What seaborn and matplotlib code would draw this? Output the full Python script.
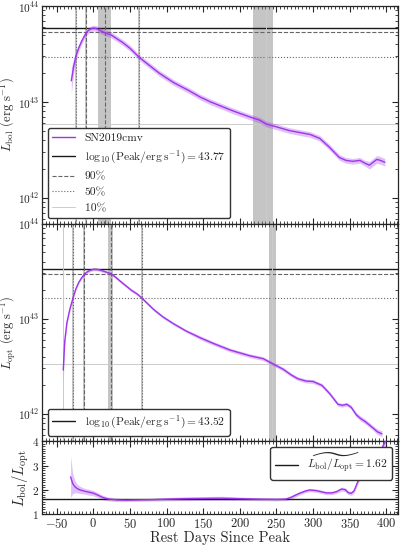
import numpy as np
import pandas as pd
import seaborn as sns
import matplotlib.pyplot as plt
from matplotlib.ticker import MultipleLocator, FixedLocator

# bolometric light curve (log10 L in erg/s) vs rest days since peak
bol_days = [-30, -27, -24, -20, -16, -12, -8, -4, 0, 4, 8, 12, 16, 24, 32, 40, 50, 62, 70, 80,
            90, 100, 110, 120, 130, 146, 160, 173, 186, 200, 213, 227, 236, 250, 268, 282, 296,
            309, 322, 336, 345, 354, 364, 371, 377, 382, 387, 392, 398]
bol_log = [43.22, 43.36, 43.47, 43.56, 43.63, 43.69, 43.735, 43.76, 43.77, 43.765, 43.75, 43.735,
           43.72, 43.70, 43.66, 43.62, 43.56, 43.47, 43.42, 43.36, 43.30, 43.25, 43.20, 43.16,
           43.12, 43.05, 43.00, 42.96, 42.92, 42.88, 42.845, 42.81, 42.77, 42.74, 42.70, 42.68,
           42.66, 42.62, 42.53, 42.42, 42.39, 42.38, 42.39, 42.36, 42.34, 42.37, 42.40, 42.39, 42.37]
bol_err = [0.14, 0.08, 0.05, 0.04, 0.03, 0.03, 0.03, 0.03, 0.03, 0.03, 0.03, 0.03, 0.03, 0.03,
           0.03, 0.03, 0.03, 0.03, 0.03, 0.03, 0.03, 0.03, 0.03, 0.03, 0.03, 0.03, 0.03, 0.03,
           0.03, 0.03, 0.03, 0.03, 0.03, 0.03, 0.03, 0.03, 0.03, 0.03, 0.03, 0.03, 0.03, 0.03,
           0.03, 0.03, 0.04, 0.04, 0.04, 0.04, 0.04]

# optical light curve
opt_days = [-41, -39, -36, -32, -28, -24, -20, -16, -12, -8, -4, 0, 4, 8, 12, 18, 24, 30, 36, 44,
            52, 60, 66, 74, 82, 95, 109, 127, 146, 164, 187, 214, 232, 244, 259, 270, 279, 290,
            300, 312, 323, 334, 340, 346, 352, 359, 365, 371, 382, 388, 394]
opt_log = [42.46, 42.76, 42.96, 43.10, 43.21, 43.31, 43.38, 43.43, 43.47, 43.495, 43.51, 43.52,
           43.52, 43.515, 43.505, 43.49, 43.474, 43.44, 43.40, 43.35, 43.30, 43.26, 43.22, 43.16,
           43.10, 43.02, 42.95, 42.87, 42.80, 42.74, 42.67, 42.61, 42.58, 42.53, 42.47, 42.41,
           42.37, 42.345, 42.34, 42.30, 42.21, 42.10, 42.09, 42.10, 42.07, 41.99, 41.95, 41.92,
           41.85, 41.81, 41.79]
opt_err = [0.12, 0.05, 0.03, 0.02, 0.02, 0.015, 0.015, 0.015, 0.015, 0.015, 0.015, 0.015, 0.015,
           0.015, 0.015, 0.015, 0.015, 0.015, 0.015, 0.015, 0.015, 0.015, 0.015, 0.015, 0.015,
           0.015, 0.015, 0.015, 0.02, 0.02, 0.02, 0.02, 0.02, 0.02, 0.02, 0.02, 0.02, 0.02, 0.02,
           0.02, 0.02, 0.02, 0.02, 0.02, 0.02, 0.025, 0.025, 0.025, 0.025, 0.03, 0.03]

# ratio L_bol / L_opt
ratio_days = [-31, -28, -25, -22, -18, -12, -6, 0, 6, 13, 20, 32, 45, 60, 80, 100, 125, 150, 175,
              200, 225, 250, 262, 268, 275, 282, 290, 296, 305, 318, 326, 332, 339, 344, 348, 352,
              356, 360, 364, 370, 375, 380, 384, 388, 392, 396, 399]
ratio_val = [2.53, 2.25, 2.12, 2.05, 1.99, 1.94, 1.90, 1.86, 1.78, 1.68, 1.62, 1.58, 1.57, 1.58,
             1.59, 1.61, 1.63, 1.64, 1.65, 1.63, 1.61, 1.60, 1.61, 1.66, 1.76, 1.86, 1.95, 1.99,
             1.96, 1.87, 1.87, 1.92, 2.03, 2.00, 1.88, 1.85, 1.95, 2.25, 2.52, 2.62, 2.69, 2.73,
             2.95, 3.25, 3.55, 3.84, 4.00]
ratio_err = [0.85, 0.40, 0.25, 0.18, 0.15, 0.12, 0.12, 0.11, 0.10, 0.09, 0.08, 0.07, 0.06, 0.06,
             0.06, 0.07, 0.08, 0.08, 0.08, 0.07, 0.06, 0.06, 0.06, 0.07, 0.07, 0.07, 0.07, 0.07,
             0.07, 0.07, 0.07, 0.07, 0.08, 0.08, 0.08, 0.08, 0.09, 0.10, 0.10, 0.10, 0.10, 0.10,
             0.12, 0.14, 0.16, 0.18, 0.20]

bol_peak = 43.77
opt_peak = 43.52
ratio_median = 1.62
levels = {'90%': 0.9, '50%': 0.5, '10%': 0.1}

# level crossing times and their uncertainty ranges
bol_cross_t = [-23.6, -10, 16, 62, 236]
bol_cross_lo = [-25, -11.5, 6.4, 60.5, 218]
bol_cross_hi = [-22, -8.5, 24, 63.5, 245]
bol_cross_lvl = ['50%', '90%', '90%', '50%', '10%']

opt_cross_t = [-41, -28, -12.7, 24, 66, 244]
opt_cross_lo = [-42, -29.5, -14, 20, 64.5, 240]
opt_cross_hi = [-40, -26.5, -11.5, 27, 67.5, 249]
opt_cross_lvl = ['10%', '50%', '90%', '90%', '50%', '10%']

purple = '#9e34ec'
lvl_style = {'90%': dict(ls='--', color='0.4', lw=0.8),
             '50%': dict(ls=':', color='0.4', lw=0.8),
             '10%': dict(ls='-', color='0.8', lw=0.7)}

sns.set_theme(style='ticks')
plt.rcParams.update({
    'font.family': ['cmr10', 'DejaVu Serif'],
    'mathtext.fontset': 'cm',
    'axes.formatter.use_mathtext': True,
    'axes.unicode_minus': True,
    'font.size': 9,
    'xtick.labelsize': 9,
    'ytick.labelsize': 8.2,
    'xtick.direction': 'in',
    'ytick.direction': 'in',
    'xtick.top': True,
    'ytick.right': True,
    'xtick.minor.visible': True,
    'ytick.minor.visible': True,
    'xtick.major.pad': 2,
    'ytick.major.pad': 2,
})

bol_df = pd.DataFrame({'day': bol_days, 'L': 10 ** np.array(bol_log)})
opt_df = pd.DataFrame({'day': opt_days, 'L': 10 ** np.array(opt_log)})
ratio_df = pd.DataFrame({'day': ratio_days, 'ratio': ratio_val})

fig, (ax1, ax2, ax3) = plt.subplots(3, 1, sharex=True, figsize=(4, 5.45), dpi=100,
                                    gridspec_kw={'height_ratios': [3, 3, 1], 'hspace': 0})
fig.subplots_adjust(left=0.105, right=0.995, top=0.989, bottom=0.057)


def draw_lum_panel(ax, df, logs, errs, peak, cross_t, cross_lo, cross_hi, cross_lvl, label):
    sns.lineplot(x='day', y='L', data=df, ax=ax, color=purple, lw=1, label=label, zorder=4)
    lo = 10 ** (np.array(logs) - np.array(errs))
    hi = 10 ** (np.array(logs) + np.array(errs))
    ax.fill_between(df['day'], lo, hi, color=purple, alpha=0.3, lw=0, zorder=3)
    ax.axhline(10 ** peak, color='0.1', lw=1,
               label=r'$\log_{10}(\mathrm{Peak}/\mathrm{erg\;s^{-1}}) = %.2f$' % peak)
    for name, frac in levels.items():
        ax.axhline(frac * 10 ** peak, label=name, **lvl_style[name])
    for t, a, b, lvl in zip(cross_t, cross_lo, cross_hi, cross_lvl):
        ax.axvspan(a, b, color='grey', alpha=0.45, lw=0, zorder=1)
        ax.axvline(t, **lvl_style[lvl])
    ax.set_yscale('log')


draw_lum_panel(ax1, bol_df, bol_log, bol_err, bol_peak, bol_cross_t, bol_cross_lo,
               bol_cross_hi, bol_cross_lvl, 'SN2019cmv')
draw_lum_panel(ax2, opt_df, opt_log, opt_err, opt_peak, opt_cross_t, opt_cross_lo,
               opt_cross_hi, opt_cross_lvl, None)

ax1.set_ylim(10 ** 41.73, 1e44)
ax2.set_ylim(10 ** 41.71, 1e44)
ax1.set_ylabel(r'$L_{\rm bol}$ $(\mathrm{erg\ s^{-1}})$', fontsize=9.2)
ax2.set_ylabel(r'$L_{\rm opt}$ $(\mathrm{erg\ s^{-1}})$', fontsize=9)

leg1 = ax1.legend(loc='lower left', fontsize=8.3, frameon=True, fancybox=True,
                  edgecolor='0.2', framealpha=1)
h, l = ax2.get_legend_handles_labels()
leg2 = ax2.legend(h[:1], l[:1], loc='lower left', fontsize=8.3, frameon=True, fancybox=True,
                  edgecolor='0.2', framealpha=1)

# ratio panel
sns.lineplot(x='day', y='ratio', data=ratio_df, ax=ax3, color=purple, lw=1, zorder=4)
ax3.fill_between(ratio_df['day'], np.array(ratio_val) - np.array(ratio_err),
                 np.array(ratio_val) + np.array(ratio_err), color=purple, alpha=0.3, lw=0)
ax3.axhline(ratio_median, color='0.1', lw=1,
            label=r'$\widetilde{L_{\rm bol}/L_{\rm opt}} = %.2f$' % ratio_median)
ax3.legend(loc='upper right', fontsize=8.3, frameon=True, fancybox=True,
           edgecolor='0.2', framealpha=1)
ax3.set_ylim(1, 4)
ax3.yaxis.set_major_locator(FixedLocator([1, 2, 3, 4]))
ax3.yaxis.set_minor_locator(MultipleLocator(0.1))
ax3.set_ylabel(r'$L_{\rm bol}/L_{\rm opt}$', fontsize=10.5)

ax3.set_xlim(-70, 416)
ax3.xaxis.set_major_locator(MultipleLocator(50))
ax3.xaxis.set_minor_locator(MultipleLocator(5))
ax3.set_xlabel('Rest Days Since Peak', fontsize=10.5, labelpad=0)
for ax in (ax1, ax2, ax3):
    ax.tick_params(which='major', length=4, width=0.8)
    ax.tick_params(which='minor', length=2, width=0.6)
    if ax is not ax3:
        ax.set_xlabel('')
    for s in ax.spines.values():
        s.set_linewidth(0.9)

# ylabel positions (right edge of the rotated label, in axes coords)
ax1.yaxis.set_label_coords(-0.069, 0.5)
ax2.yaxis.set_label_coords(-0.067, 0.5)
ax3.yaxis.set_label_coords(-0.03, 0.5)

plt.savefig('out.png', dpi=100)
plt.close()
